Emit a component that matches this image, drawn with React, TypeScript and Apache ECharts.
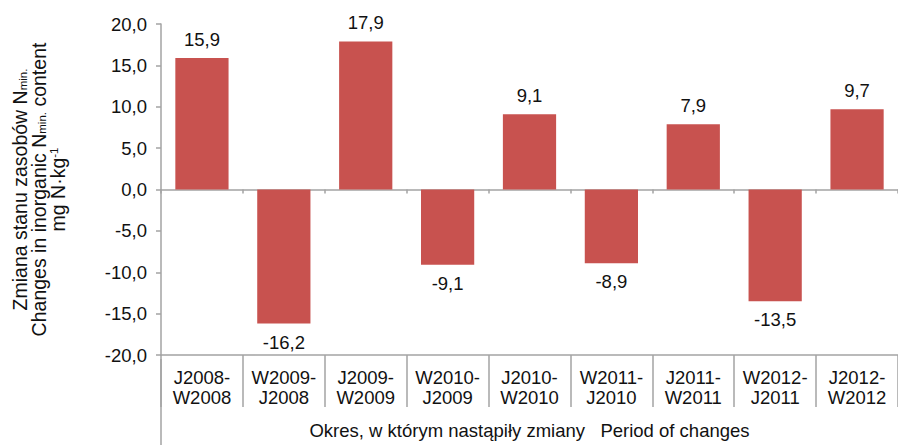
import React, { useEffect, useRef } from "react";
import * as echarts from "echarts";

const categories = [
  "J2008-\nW2008",
  "W2009-\nJ2008",
  "J2009-\nW2009",
  "W2010-\nJ2009",
  "J2010-\nW2010",
  "W2011-\nJ2010",
  "J2011-\nW2011",
  "W2012-\nJ2011",
  "J2012-\nW2012",
];
const values = [15.9, -16.2, 17.9, -9.1, 9.1, -8.9, 7.9, -13.5, 9.7];
const yMin = -20;
const yMax = 20;
const yInterval = 5;
const xAxisTitle = "Okres, w którym nastąpiły zmiany   Period of changes";

const FONT = "'Liberation Sans', Arial, sans-serif";
const AXIS_COLOR = "#a3a3a3";
const FS = 18.5;
const fmt = (v: number) => v.toFixed(1).replace(".", ",");

export default function App() {
  const ref = useRef<HTMLDivElement>(null);
  useEffect(() => {
    if (!ref.current) return;
    const chart = echarts.init(ref.current, null, { renderer: "svg" });
    chart.setOption({
      animation: false,
      backgroundColor: "#ffffff",
      textStyle: { fontFamily: FONT },
      grid: { left: 161, top: 24, right: -8, bottom: 86, containLabel: false },
      xAxis: [
        {
          type: "category",
          data: categories,
          position: "bottom",
          axisLine: { onZero: true, lineStyle: { color: AXIS_COLOR, width: 1.5 } },
          axisTick: { show: true, interval: 0, length: 4, lineStyle: { color: AXIS_COLOR, width: 1.5 } },
          axisLabel: { show: false, interval: 0 },
          splitLine: { show: false },
        },
        {
          type: "category",
          data: categories,
          position: "bottom",
          name: xAxisTitle,
          nameLocation: "middle",
          nameGap: 66,
          nameTextStyle: { fontFamily: FONT, fontSize: FS, color: "#111" },
          axisLine: { onZero: false, lineStyle: { color: AXIS_COLOR, width: 1.5 } },
          axisTick: { show: true, interval: 0, length: 52, lineStyle: { color: AXIS_COLOR, width: 1.5 } },
          axisLabel: {
            interval: 0,
            fontFamily: FONT,
            fontSize: FS,
            color: "#111",
            lineHeight: 20,
            margin: 12,
          },
          splitLine: { show: false },
        },
      ],
      yAxis: {
        type: "value",
        min: yMin,
        max: yMax,
        interval: yInterval,
        name:
          "{t|Zmiana stanu zasobów N}{sub|min.}\n{t|Changes in inorganic N}{sub|min.}{t| content}\n{t|mg N·kg}{sup|-1}",
        nameLocation: "middle",
        nameGap: 94,
        nameRotate: 90,
        nameTextStyle: {
          fontFamily: FONT,
          fontSize: 19.5,
          lineHeight: 19,
          color: "#111",
          align: "center",
          rich: {
            t: { fontFamily: FONT, fontSize: 19.5, color: "#111", lineHeight: 19 },
            sub: { fontFamily: FONT, fontSize: 11.5, color: "#111", verticalAlign: "bottom", lineHeight: 19, padding: [6, 0, 0, 0] },
            sup: { fontFamily: FONT, fontSize: 11.5, color: "#111", verticalAlign: "top", lineHeight: 19, padding: [0, 0, 6, 0] },
          },
        },
        axisLine: { show: true, lineStyle: { color: AXIS_COLOR, width: 1.5 } },
        axisTick: { show: true, length: 5, lineStyle: { color: AXIS_COLOR, width: 1.5 } },
        axisLabel: {
          fontFamily: FONT,
          fontSize: FS,
          color: "#111",
          margin: 14,
          formatter: (v: number) => fmt(v),
        },
        splitLine: { show: false },
      },
      graphic: [
        {
          type: "line",
          shape: { x1: 161, y1: 359, x2: 161, y2: 445 },
          style: { stroke: AXIS_COLOR, lineWidth: 1.5 },
        },
      ],
      series: [
        {
          type: "bar",
          xAxisIndex: 0,
          data: values.map((v) => ({
            value: v,
            label: { position: v >= 0 ? "top" : "bottom" },
          })),
          barCategoryGap: "35%",
          itemStyle: { color: "#c8524f" },
          label: {
            show: true,
            distance: 9,
            fontFamily: FONT,
            fontSize: FS,
            color: "#111",
            formatter: (p: any) => fmt(p.value),
          },
        },
      ],
    });
    return () => chart.dispose();
  }, []);
  return <div ref={ref} style={{ width: 898, height: 445, position: "absolute", left: 0, top: 0 }} />;
}
